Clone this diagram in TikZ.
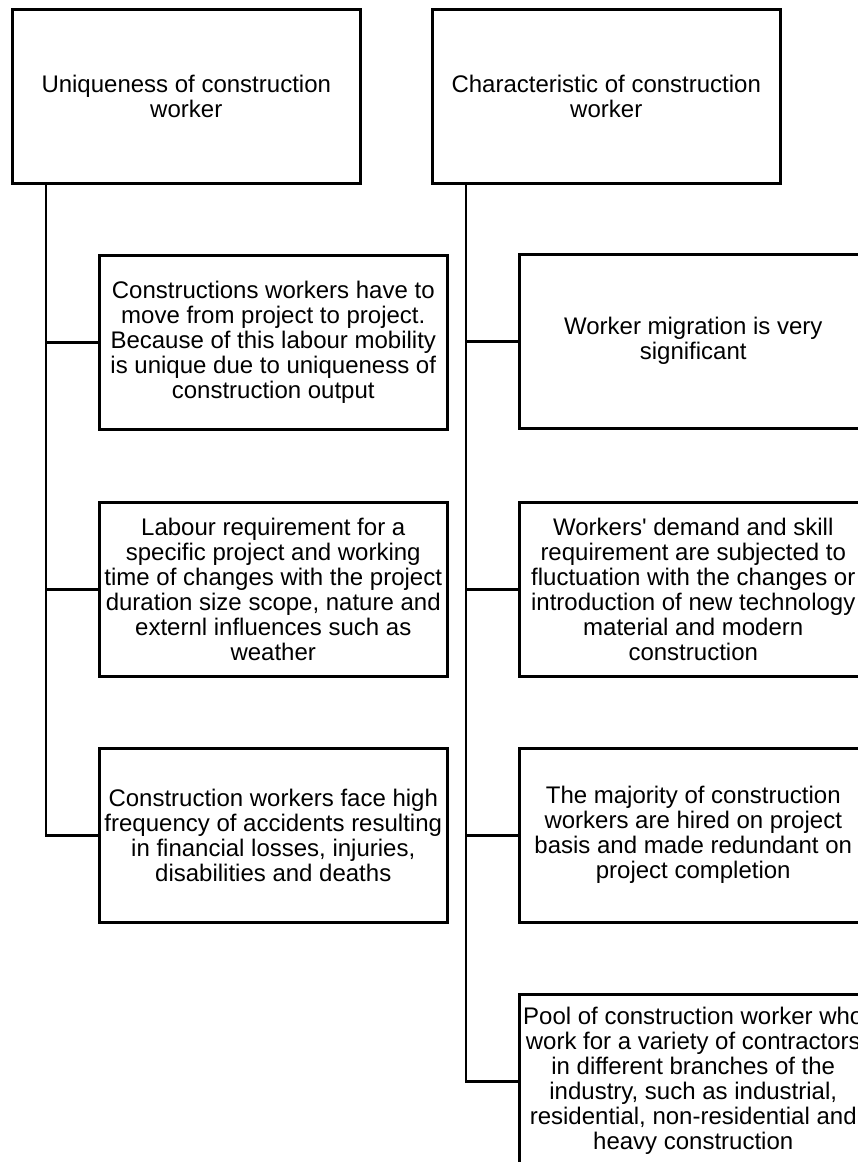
\documentclass[tikz,border=0pt]{standalone}
\usepackage{fontspec}
\setmainfont{Liberation Sans}
\newcommand\straightq{\XeTeXglyph\XeTeXcharglyph"27{}}
\begin{document}
\begin{tikzpicture}[x=1pt,y=-1pt,
  box/.style={draw=black, line width=2.5pt, fill=white, anchor=north west,
    minimum width=348pt, minimum height=174pt, inner sep=1pt, align=center,
    font=\fontsize{24}{25}\selectfont},
  link/.style={draw=black, line width=2.5pt}]
\clip (0,0) rectangle (858,1162);
\fill[white] (0,0) rectangle (858,1162);
% top boxes
\node[box] (u) at (11,8) {Uniqueness of construction\\worker};
\node[box] (c) at (431,8) {Characteristic of construction\\worker};
% left column
\node[box] (l1) at (98,254) {Constructions workers have to\\move from project to project.\\Because of this labour mobility\\is unique due to uniqueness of\\construction output};
\node[box] (l2) at (98,501) {Labour requirement for a\\specific project and working\\time of changes with the project\\duration size scope, nature and\\externl influences such as\\weather};
\node[box] (l3) at (98,747) {Construction workers face high\\frequency of accidents resulting\\in financial losses, injuries,\\disabilities and deaths};
% right column
\node[box] (r1) at (518,253) {Worker migration is very\\significant};
\node[box] (r2) at (518,501) {Workers\straightq{} demand and skill\\requirement are subjected to\\fluctuation with the changes or\\introduction of new technology\\material and modern\\construction};
\node[box] (r3) at (518,747) {The majority of construction\\workers are hired on project\\basis and made redundant on\\project completion};
\node[box] (r4) at (518,993) {Pool of construction worker who\\work for a variety of contractors\\in different branches of the\\industry, such as industrial,\\residential, non-residential and\\heavy construction};
% trunks
\coordinate (lt) at ([xshift=35pt]u.south west);
\coordinate (rt) at ([xshift=35pt]c.south west);
\draw[link] (lt) |- (l3.west);
\draw[link] (l1.west) -- (l1.west -| lt);
\draw[link] (l2.west) -- (l2.west -| lt);
\draw[link] (rt) |- (r4.west);
\draw[link] (r1.west) -- (r1.west -| rt);
\draw[link] (r2.west) -- (r2.west -| rt);
\draw[link] (r3.west) -- (r3.west -| rt);
\end{tikzpicture}
\end{document}
